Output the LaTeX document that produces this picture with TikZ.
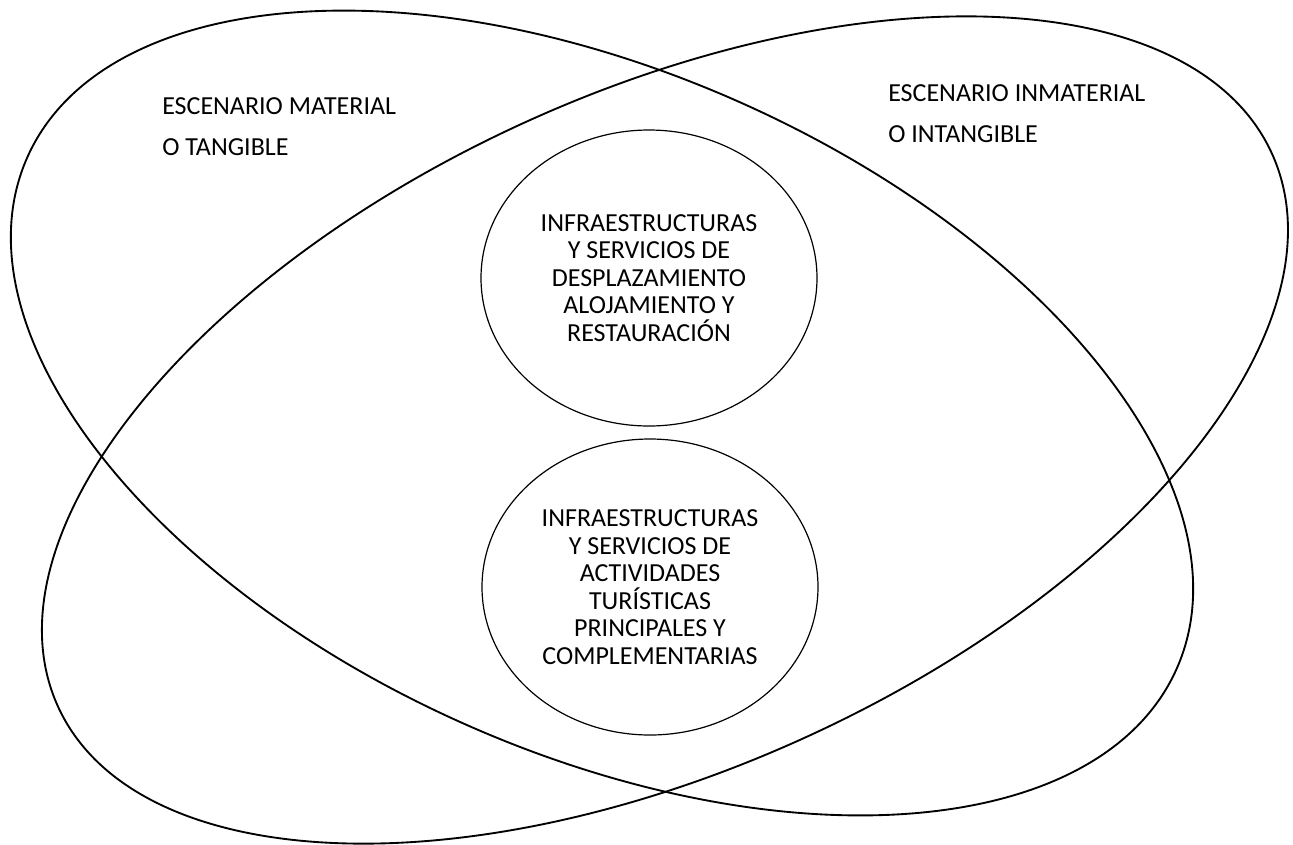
\documentclass[tikz,border=0pt]{standalone}
\usepackage{fontspec}
\setmainfont{Carlito}
\usetikzlibrary{shapes.geometric}
\tikzset{
    escenario/.style={line width=1.4pt},
    servicio/.style={draw, ellipse, line width=0.9pt, inner sep=0pt,
                     minimum width=252pt, minimum height=222pt, align=center,
                     font=\fontsize{19.5}{20.6}\selectfont},
    etiqueta/.style={anchor=west, inner sep=0pt, align=left,
                     font=\fontsize{19.5}{30.75}\selectfont},
}
\begin{document}
\begin{tikzpicture}[x=0.75pt,y=0.75pt]
    \useasboundingbox (0,0) rectangle (1293,-844);
    % los dos escenarios
    \coordinate (cmat) at (602,-413);
    \coordinate (cinm) at (665,-430);
    \draw[escenario, rotate around={-24:(cmat)}] (cmat) ellipse [x radius=629, y radius=340];
    \draw[escenario, rotate around={24.5:(cinm)}] (cinm) ellipse [x radius=667, y radius=338];
    \node[etiqueta] (material) at (162,-126.5) {ESCENARIO MATERIAL\\O TANGIBLE};
    \node[etiqueta] (inmaterial) at (888,-114) {ESCENARIO INMATERIAL\\O INTANGIBLE};
    % infraestructuras y servicios
    \node[servicio] (desplaza) at (649,-278) {INFRAESTRUCTURAS\\Y SERVICIOS DE\\DESPLAZAMIENTO\\ALOJAMIENTO Y\\RESTAURACIÓN};
    \node[servicio] (actividad) at (650,-587) {INFRAESTRUCTURAS\\Y SERVICIOS DE\\ACTIVIDADES\\TURÍSTICAS\\PRINCIPALES Y\\COMPLEMENTARIAS};
\end{tikzpicture}
\end{document}
